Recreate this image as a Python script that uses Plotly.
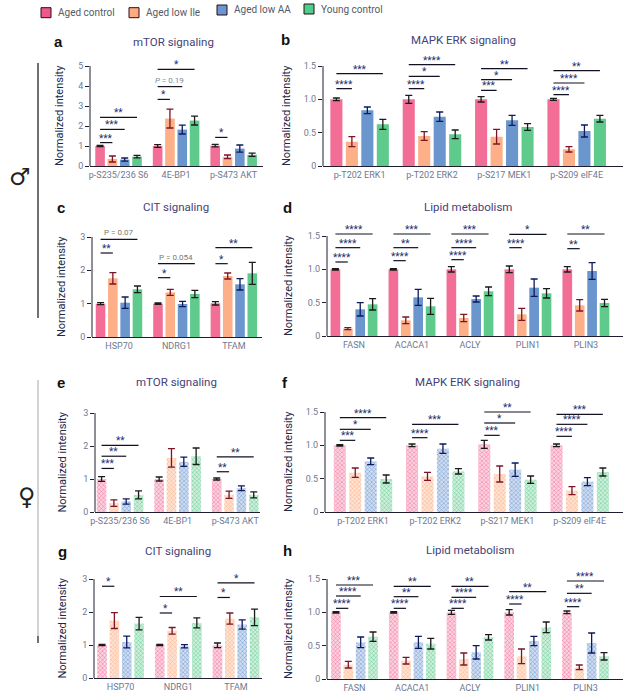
import plotly.graph_objects as go

W, H = 626, 699

# ---------------- data ----------------
SERIES = ["Aged control", "Aged low Ile", "Aged low AA", "Young control"]

A_CATS = ["p-S235/236 S6", "4E-BP1", "p-S473 AKT"]
A_MEAN = [[1.00, 1.00, 1.02], [0.35, 2.37, 0.46], [0.32, 1.82, 0.87], [0.47, 2.27, 0.56]]
A_SEM = [[0.03, 0.07, 0.06], [0.15, 0.47, 0.09], [0.08, 0.22, 0.18], [0.06, 0.22, 0.08]]
A_SIG = [(0, 1, 1.17, "***"), (0, 2, 1.83, "***"), (0, 3, 2.43, "**"),
         (1, 1, 3.33, "*"), (1, 2, 3.97, "<i>P</i> = 0.19"), (1, 3, 4.83, "*"),
         (2, 1, 1.43, "*")]

B_CATS = ["p-T202 ERK1", "p-T202 ERK2", "p-S217 MEK1", "p-S209 eIF4E"]
B_MEAN = [[1.0, 1.0, 1.0, 1.0], [0.365, 0.45, 0.44, 0.25], [0.835, 0.74, 0.685, 0.525], [0.625, 0.475, 0.585, 0.71]]
B_SEM = [[0.02, 0.06, 0.04, 0.015], [0.075, 0.065, 0.11, 0.04], [0.05, 0.07, 0.075, 0.09], [0.075, 0.065, 0.05, 0.05]]
B_SIG = [(0, 1, 1.16, "****"), (0, 3, 1.385, "***"),
         (1, 1, 1.16, "****"), (1, 2, 1.345, "*"), (1, 3, 1.52, "****"),
         (2, 1, 1.135, "***"), (2, 2, 1.295, "*"), (2, 3, 1.46, "**"),
         (3, 1, 1.07, "****"), (3, 2, 1.245, "****"), (3, 3, 1.43, "**")]

C_CATS = ["HSP70", "NDRG1", "TFAM"]
C_MEAN = [[1.0, 1.0, 1.01], [1.76, 1.34, 1.83], [1.03, 0.99, 1.58], [1.43, 1.29, 1.91]]
C_SEM = [[0.03, 0.02, 0.05], [0.17, 0.09, 0.09], [0.17, 0.08, 0.17], [0.10, 0.11, 0.33]]
C_SIG = [(0, 1, 2.52, "**"), (0, 3, 2.93, "P = 0.07"),
         (1, 1, 1.78, "*"), (1, 3, 2.20, "P = 0.054"),
         (2, 1, 2.20, "*"), (2, 3, 2.68, "**")]

D_CATS = ["FASN", "ACACA1", "ACLY", "PLIN1", "PLIN3"]
D_MEAN = [[1.0, 1.0, 1.0, 1.0, 1.0], [0.11, 0.235, 0.27, 0.325, 0.46],
          [0.40, 0.58, 0.555, 0.725, 0.975], [0.475, 0.445, 0.67, 0.64, 0.495]]
D_SEM = [[0.01, 0.01, 0.04, 0.05, 0.04], [0.015, 0.05, 0.055, 0.09, 0.085],
         [0.10, 0.12, 0.045, 0.13, 0.125], [0.085, 0.12, 0.065, 0.07, 0.055]]
D_SIG = [(0, 1, 1.11, "****"), (0, 2, 1.325, "****"), (0, 3, 1.53, "****"),
         (1, 1, 1.13, "****"), (1, 2, 1.325, "**"), (1, 3, 1.53, "***"),
         (2, 1, 1.145, "****"), (2, 2, 1.325, "****"), (2, 3, 1.53, "***"),
         (3, 1, 1.325, "****"), (3, 3, 1.525, "*"),
         (4, 1, 1.31, "**"), (4, 3, 1.53, "**")]

E_CATS = ["p-S235/236 S6", "4E-BP1", "p-S473 AKT"]
E_MEAN = [[1.0, 1.0, 1.0], [0.27, 1.64, 0.52], [0.32, 1.52, 0.72], [0.52, 1.69, 0.52]]
E_SEM = [[0.07, 0.06, 0.03], [0.10, 0.28, 0.11], [0.08, 0.14, 0.07], [0.12, 0.25, 0.09]]
E_SIG = [(0, 1, 1.32, "***"), (0, 2, 1.69, "**"), (0, 3, 2.02, "**"),
         (2, 1, 1.22, "**"), (2, 3, 1.67, "**")]

F_CATS = ["p-T202 ERK1", "p-T202 ERK2", "p-S217 MEK1", "p-S209 eIF4E"]
F_MEAN = [[1.0, 1.0, 1.015, 1.0], [0.59, 0.535, 0.57, 0.32], [0.76, 0.95, 0.635, 0.455], [0.495, 0.61, 0.485, 0.60]]
F_SEM = [[0.01, 0.02, 0.06, 0.02], [0.07, 0.06, 0.12, 0.06], [0.05, 0.07, 0.10, 0.06], [0.06, 0.04, 0.055, 0.06]]
F_SIG = [(0, 1, 1.075, "***"), (0, 2, 1.24, "*"), (0, 3, 1.415, "****"),
         (1, 1, 1.115, "****"), (1, 3, 1.315, "***"),
         (2, 1, 1.15, "***"), (2, 2, 1.335, "*"), (2, 3, 1.50, "**"),
         (3, 1, 1.135, "****"), (3, 2, 1.315, "****"), (3, 3, 1.465, "***")]

G_CATS = ["HSP70", "NDRG1", "TFAM"]
G_MEAN = [[1.0, 1.0, 0.99], [1.74, 1.43, 1.80], [1.09, 0.96, 1.62], [1.65, 1.67, 1.84]]
G_SEM = [[0.02, 0.02, 0.07], [0.24, 0.10, 0.17], [0.18, 0.05, 0.14], [0.19, 0.15, 0.25]]
G_SIG = [(0, 1, 2.78, "*"), (1, 1, 1.97, "*"), (1, 3, 2.47, "**"),
         (2, 1, 2.44, "*"), (2, 3, 2.88, "*")]

H_CATS = ["FASN", "ACACA1", "ACLY", "PLIN1", "PLIN3"]
H_MEAN = [[1.0, 1.0, 1.0, 1.0, 1.0], [0.215, 0.275, 0.30, 0.34, 0.175],
          [0.55, 0.55, 0.40, 0.57, 0.54], [0.635, 0.53, 0.625, 0.775, 0.34]]
H_SEM = [[0.01, 0.01, 0.03, 0.04, 0.02], [0.05, 0.05, 0.09, 0.11, 0.035],
         [0.08, 0.09, 0.10, 0.07, 0.15], [0.07, 0.08, 0.04, 0.08, 0.055]]
H_SIG = [(0, 1, 1.06, "****"), (0, 2, 1.245, "****"), (0, 3, 1.41, "***"),
         (1, 1, 1.06, "****"), (1, 2, 1.235, "**"), (1, 3, 1.39, "**"),
         (2, 1, 1.06, "****"), (2, 2, 1.225, "****"), (2, 3, 1.39, "**"),
         (3, 1, 1.125, "****"), (3, 3, 1.31, "**"),
         (4, 1, 1.085, "****"), (4, 2, 1.285, "**"), (4, 3, 1.47, "****")]

# ---------------- style ----------------
FONT = "Roboto"
MAIN = ["#F26E96", "#FDAF87", "#6B96CD", "#5ECB8D"]
LIGHT = ["#FBD3E0", "#FEE3D3", "#D0DDF1", "#CDEFDB"]
LEG = ["#F0588A", "#FFAA80", "#6A96D2", "#4CCF8A"]
ERRC = ["#1b1b1b", "#7d1526", "#0d1a5e", "#1b1b1b"]
TICKC = "#6f7890"
AXC = "#1e1e30"
STARC = "#25306b"
TITLEC = "#453f78"

BARGAP = 0.144
SLOT = (1 - BARGAP) / 4
OFF = [-(1 - BARGAP) / 2 + SLOT * (k + 0.5) for k in range(4)]


def px(x):
    return x / W


def py(y):
    return 1 - y / H


def ann(**kw):
    d = dict(showarrow=False, xanchor="center", yanchor="middle")
    d.update(kw)
    return d


# panel: (letter, title, cats, mean, sem, sig, female, x0px, x1px, xrange, y0px, topTickPx, topTick, dtick, ytitle_x, label_x, title_x, head_y)
PANELS = [
    ("a", "mTOR signaling", A_CATS, A_MEAN, A_SEM, A_SIG, False, 90, 263, [-0.496, 2.51], 166, 66, 5, 1, 60, 58, 173, 42),
    ("b", "MAPK ERK signaling", B_CATS, B_MEAN, B_SEM, B_SIG, False, 323, 623, [-0.506, 3.64], 166, 66, 1.5, 0.5, 287, 285, 463, 40),
    ("c", "CIT signaling", C_CATS, C_MEAN, C_SEM, C_SIG, False, 92, 262, [-0.47, 2.49], 337, 237, 3, 1, 62, 61, 176, 207),
    ("d", "Lipid metabolism", D_CATS, D_MEAN, D_SEM, D_SIG, False, 327, 623, [-0.466, 4.64], 336, 236, 1.5, 0.5, 288, 287, 468, 207),
    ("e", "mTOR signaling", E_CATS, E_MEAN, E_SEM, E_SIG, True, 95, 260, [-0.435, 2.43], 512, 413, 3, 1, 62, 61, 176, 382),
    ("f", "MAPK ERK signaling", F_CATS, F_MEAN, F_SEM, F_SIG, True, 325, 623, [-0.526, 3.60], 512, 412, 1.5, 0.5, 288, 285, 467, 382),
    ("g", "CIT signaling", G_CATS, G_MEAN, G_SEM, G_SIG, True, 94, 262, [-0.46, 2.45], 678, 579, 3, 1, 62, 62, 178, 551),
    ("h", "Lipid metabolism", H_CATS, H_MEAN, H_SEM, H_SIG, True, 327, 623, [-0.476, 4.65], 679, 579, 1.5, 0.5, 288, 287, 470, 550),
]

fig = go.Figure()
shapes = []
annotations = []
layout = {}

for i, (letter, title, cats, mean, sem, sig, female, x0, x1, xr, y0, tpx, T, dt,
        ytx, lx, tx, hy) in enumerate(PANELS):
    n = i + 1
    xa = "x" if n == 1 else f"x{n}"
    ya = "y" if n == 1 else f"y{n}"
    xkey = "xaxis" if n == 1 else f"xaxis{n}"
    ykey = "yaxis" if n == 1 else f"yaxis{n}"
    ppu = (y0 - tpx) / T
    maxline = max(s[2] for s in sig)
    R = max(T, maxline * 1.02)
    ytop = y0 - R * ppu

    xs = list(range(len(cats)))
    for k in range(4):
        if female:
            marker = dict(color=LIGHT[k], line=dict(width=0),
                          pattern=dict(shape="x", fgcolor=MAIN[k], bgcolor=LIGHT[k],
                                       size=3, solidity=0.3, fillmode="replace"))
        else:
            marker = dict(color=MAIN[k], line=dict(width=0))
        fig.add_trace(go.Bar(
            x=xs, y=mean[k], name=SERIES[k], xaxis=xa, yaxis=ya,
            marker=marker, offsetgroup=str(k), showlegend=False,
            error_y=dict(type="data", array=sem[k], color=ERRC[k], thickness=1.3, width=3.5),
        ))

    ticks = []
    v = 0.0
    while v <= T + 1e-9:
        ticks.append(round(v, 2))
        v += dt
    ticktext = [("0" if t == 0 else (f"{t:.1f}" if dt < 1 else f"{int(t)}")) for t in ticks]

    layout[xkey] = dict(domain=[px(x0), px(x1)], range=xr, anchor=ya, automargin=False,
                        tickvals=xs, ticktext=cats, showgrid=False, zeroline=False,
                        showline=True, linecolor=AXC, linewidth=1, ticks="",
                        tickfont=dict(family=FONT, size=9, color=TICKC), fixedrange=True)
    layout[ykey] = dict(domain=[py(y0), py(ytop)], range=[0, R], anchor=xa, automargin=False,
                        tickvals=ticks, ticktext=ticktext, showgrid=False, zeroline=False,
                        showline=False, ticks="outside", ticklen=4, tickcolor=AXC, tickwidth=1,
                        tickfont=dict(family=FONT, size=9, color=TICKC), fixedrange=True)
    # y axis line up to the top tick
    shapes.append(dict(type="line", xref=f"{xa} domain", yref=f"{ya} domain",
                       x0=0, x1=0, y0=0, y1=T / R, line=dict(color=AXC, width=1)))

    # significance brackets
    for g, k, lev, lab in sig:
        xa0 = g + OFF[0]
        xa1 = g + OFF[k]
        shapes.append(dict(type="line", xref=xa, yref=ya, x0=xa0, x1=xa1, y0=lev, y1=lev,
                           line=dict(color="#111122", width=1.2)))
        isp = "P" in lab
        pcol = "#7c88a6" if "<i>" in lab else "#777777"
        annotations.append(ann(x=(xa0 + xa1) / 2, y=lev, xref=xa, yref=ya, text=lab,
                               yanchor="bottom", yshift=(0 if isp else -3),
                               font=dict(family=FONT, size=(8 if isp else 10),
                                         color=(pcol if isp else STARC))))

    # y title
    annotations.append(ann(x=px(ytx), y=py((y0 + tpx) / 2), xref="paper", yref="paper",
                           text="Normalized intensity", textangle=-90,
                           font=dict(family=FONT, size=11, color="#1e2a4a")))
    # panel letter
    annotations.append(ann(x=px(lx), y=py(hy), xref="paper", yref="paper", text=f"<b>{letter}</b>",
                           font=dict(family="Liberation Sans", size=15, color="#111")))
    # panel title
    annotations.append(ann(x=px(tx), y=py(hy), xref="paper", yref="paper", text=title,
                           font=dict(family=FONT, size=11.5, color=TITLEC)))

# legend (custom)
LEG_X = [41, 129, 217, 304]
LEG_Y = [12.7, 12.7, 10, 9]
for k in range(4):
    shapes.append(dict(type="rect", xref="paper", yref="paper",
                       x0=px(LEG_X[k]), x1=px(LEG_X[k] + 10),
                       y0=py(LEG_Y[k] + 5), y1=py(LEG_Y[k] - 5),
                       fillcolor=LEG[k], line=dict(color="#2a0c18", width=1)))
    annotations.append(ann(x=px(LEG_X[k] + 15), y=py(LEG_Y[k]), xref="paper", yref="paper",
                           text=SERIES[k], xanchor="left",
                           font=dict(family=FONT, size=10, color="#555a66")))

# sex markers
shapes.append(dict(type="line", xref="paper", yref="paper", x0=px(38), x1=px(38),
                   y0=py(63), y1=py(318), line=dict(color="#111", width=1.2)))
shapes.append(dict(type="line", xref="paper", yref="paper", x0=px(38), x1=px(38),
                   y0=py(380), y1=py(636), line=dict(color="#b5b5b5", width=1.2)))
shapes.append(dict(type="line", xref="paper", yref="paper", x0=px(38), x1=px(38),
                   y0=py(636), y1=py(643), line=dict(color="#111", width=1.2)))
annotations.append(ann(x=px(20), y=py(177), xref="paper", yref="paper", text="♂",
                       font=dict(family="DejaVu Sans", size=24, color="#222")))
annotations.append(ann(x=px(27), y=py(497), xref="paper", yref="paper", text="♀",
                       font=dict(family="DejaVu Sans", size=24, color="#222")))

fig.update_layout(
    template="none",
    width=W, height=H, margin=dict(l=0, r=0, t=0, b=0, autoexpand=False),
    paper_bgcolor="white", plot_bgcolor="white",
    barmode="group", bargap=BARGAP, bargroupgap=0.22,
    shapes=shapes, annotations=annotations, showlegend=False,
    font=dict(family=FONT), **layout,
)

fig.write_html("out.html", config={"displayModeBar": False, "staticPlot": True},
               post_script="document.body.style.margin='0px';document.body.style.overflow='hidden';")
